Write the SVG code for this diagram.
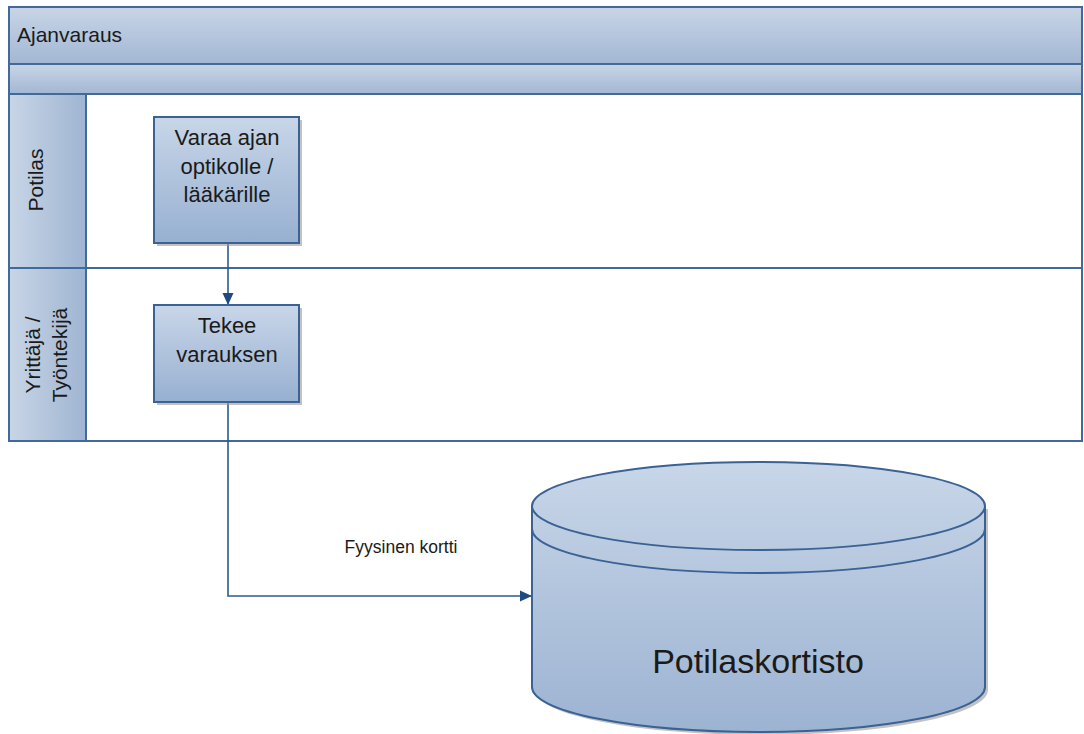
<svg xmlns="http://www.w3.org/2000/svg" width="1084" height="734" viewBox="0 0 1084 734">
<style>
.frame{stroke:#41699a;stroke-width:2;}
.t{font-family:"Liberation Sans",Arial,sans-serif;fill:#1a1a1a;}
.box{stroke:#3a6294;stroke-width:2;fill:url(#boxg);}
.shadow{fill:#9a9a9a;opacity:0.6;}
.conn{stroke:#2f5a8f;stroke-width:1.6;fill:none;}
</style>
<defs>
<linearGradient id="bandg" x1="0" y1="0" x2="0" y2="1">
<stop offset="0" stop-color="#c8d5e6"/><stop offset="1" stop-color="#a2b7d4"/>
</linearGradient>
<linearGradient id="headg" x1="0" y1="0" x2="1" y2="0">
<stop offset="0" stop-color="#c8d5e6"/><stop offset="1" stop-color="#9fb5d2"/>
</linearGradient>
<linearGradient id="boxg" x1="0" y1="0" x2="0" y2="1">
<stop offset="0" stop-color="#c8d6e8"/><stop offset="1" stop-color="#97b0d1"/>
</linearGradient>
<linearGradient id="cylg" x1="0" y1="0" x2="0" y2="1">
<stop offset="0" stop-color="#c8d6e8"/><stop offset="1" stop-color="#9cb3d2"/>
</linearGradient>
<marker id="arr" markerWidth="12" markerHeight="12" refX="11" refY="6" orient="auto" markerUnits="userSpaceOnUse">
<path d="M0,0.5 L12,6 L0,11.5 Z" fill="#1f4a80"/>
</marker>
</defs>
<rect width="1084" height="734" fill="#ffffff"/>
<g id="pool">
<rect x="9" y="7" width="1073" height="57" fill="url(#bandg)" class="frame"/>
<rect x="9" y="64" width="1073" height="30" fill="url(#bandg)" class="frame"/>
<rect x="9" y="94" width="1073" height="347" fill="#ffffff" class="frame"/>
<text class="t" x="17" y="42" font-size="21">Ajanvaraus</text>
</g>
<g id="lane-potilas">
<rect x="9" y="94" width="77" height="174" fill="url(#headg)" class="frame"/>
<line x1="86" y1="268" x2="1082" y2="268" class="frame"/>
<text class="t" font-size="21" text-anchor="middle" transform="translate(43,180) rotate(-90)">Potilas</text>
</g>
<g id="lane-yrittaja">
<rect x="9" y="268" width="77" height="173" fill="url(#headg)" class="frame"/>
<text class="t" font-size="21" text-anchor="middle" transform="translate(40,355) rotate(-90)">Yrittäjä /</text>
<text class="t" font-size="21" text-anchor="middle" transform="translate(67,355) rotate(-90)">Työntekijä</text>
</g>
<g id="connectors">
<line x1="228" y1="243" x2="228" y2="304" class="conn" marker-end="url(#arr)"/>
<polyline points="228,402 228,596 531,596" class="conn" marker-end="url(#arr)"/>
<text class="t" x="401" y="553" font-size="17.5" text-anchor="middle">Fyysinen kortti</text>
</g>
<g id="node-varaa">
<rect x="157" y="120" width="145" height="126" class="shadow"/>
<rect x="154" y="117" width="145" height="126" class="box"/>
<text class="t" font-size="22" text-anchor="middle"><tspan x="227" y="145">Varaa ajan</tspan><tspan x="227" y="174">optikolle /</tspan><tspan x="227" y="202">lääkärille</tspan></text>
</g>
<g id="node-tekee">
<rect x="157" y="308" width="145" height="97" class="shadow"/>
<rect x="154" y="305" width="145" height="97" class="box"/>
<text class="t" font-size="22" text-anchor="middle"><tspan x="227" y="333">Tekee</tspan><tspan x="227" y="362">varauksen</tspan></text>
</g>
<g id="node-potilaskortisto">
<path d="M535,509 L535,690 A226.5,45 0 0 0 988,690 L988,509 Z" class="shadow"/>
<path d="M532,506 L532,687 A226.5,45 0 0 0 985,687 L985,506 A226.5,44 0 0 0 532,506 Z" fill="url(#cylg)" stroke="#3a6294" stroke-width="2"/>
<path d="M532,506 A226.5,44 0 0 0 985,506" fill="none" stroke="#3a6294" stroke-width="2"/>
<path d="M532,529 A226.5,44 0 0 0 985,529" fill="none" stroke="#3a6294" stroke-width="2"/>
<text class="t" x="758" y="673" font-size="34" text-anchor="middle">Potilaskortisto</text>
</g>
</svg>
